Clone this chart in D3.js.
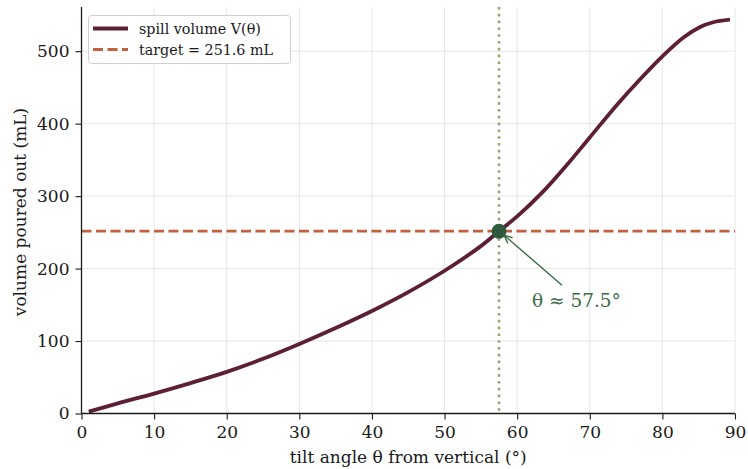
<!DOCTYPE html>
<html>
<head>
<meta charset="utf-8">
<script src="https://cdn.jsdelivr.net/npm/d3@7"></script>
<style>
  html, body { margin: 0; padding: 0; background: #fff; }
  svg { display: block; font-family: "DejaVu Serif", serif; }
</style>
</head>
<body>
<svg id="chart" width="748" height="469"></svg>
<script>
// ---- data ----
const theta = [1, 5, 10, 15, 20, 25, 30, 35, 40, 45, 50, 55, 57.5, 60, 63.6, 66.8, 70, 73.7, 76.9, 80, 82.9, 85.2, 87, 89.3];
const volume = [2.5, 14, 27.5, 42, 57.5, 75.5, 96, 118, 141.5, 167.5, 197, 231, 251.6, 272, 306.5, 342.5, 381, 425.5, 461, 493, 519, 533.5, 540, 543.5];
const targetVolume = 251.6;
const solutionAngle = 57.5;
const xTicks = [0, 10, 20, 30, 40, 50, 60, 70, 80, 90];
const yTicks = [0, 100, 200, 300, 400, 500];
const xDomain = [0, 90];
const yDomain = [0, 561];
const seriesLabels = ["spill volume V(θ)", "target = 251.6 mL"];
const annotationText = "θ ≈ 57.5°";
const xLabel = "tilt angle θ from vertical (°)";
const yLabel = "volume poured out (mL)";

// ---- layout ----
const M = { left: 81.5, right: 735, top: 7, bottom: 413.5 };
const colors = { curve: "#5d1f35", target: "#c1613f", vline: "#97a574", dot: "#2e5b3b", annot: "#3b6a47", grid: "#e6e6e6", ink: "#1a1a1a" };

const svg = d3.select("#chart");
const x = d3.scaleLinear().domain(xDomain).range([M.left, M.right]);
const y = d3.scaleLinear().domain(yDomain).range([M.bottom, M.top]);

// grid
svg.append("g").selectAll("line").data(xTicks).join("line")
  .attr("x1", d => x(d)).attr("x2", d => x(d)).attr("y1", M.top).attr("y2", M.bottom)
  .attr("stroke", colors.grid).attr("stroke-width", 1);
svg.append("g").selectAll("line").data(yTicks).join("line")
  .attr("x1", M.left).attr("x2", M.right).attr("y1", d => y(d)).attr("y2", d => y(d))
  .attr("stroke", colors.grid).attr("stroke-width", 1);

// vertical dotted line
svg.append("line")
  .attr("x1", x(solutionAngle)).attr("x2", x(solutionAngle)).attr("y1", M.top).attr("y2", M.bottom)
  .attr("stroke", colors.vline).attr("stroke-width", 2.6).attr("stroke-dasharray", "2.6,4.2");

// target dashed line
svg.append("line")
  .attr("x1", M.left).attr("x2", M.right).attr("y1", y(targetVolume)).attr("y2", y(targetVolume))
  .attr("stroke", colors.target).attr("stroke-width", 2.8).attr("stroke-dasharray", "10,4.5");

// curve
const pts = theta.map((t, i) => [t, volume[i]]);
const line = d3.line().x(d => x(d[0])).y(d => y(d[1])).curve(d3.curveCatmullRom.alpha(0.5));
svg.append("path").datum(pts).attr("d", line)
  .attr("fill", "none").attr("stroke", colors.curve).attr("stroke-width", 3.8)
  .attr("stroke-linejoin", "round").attr("stroke-linecap", "butt");

// dot
svg.append("circle").attr("cx", x(solutionAngle)).attr("cy", y(targetVolume)).attr("r", 7.5)
  .attr("fill", colors.dot);

// annotation arrow
const ax0 = x(solutionAngle) + 63, ay0 = y(targetVolume) + 54;
const ax1 = x(solutionAngle) + 5, ay1 = y(targetVolume) + 4;
svg.append("line").attr("x1", ax0).attr("y1", ay0).attr("x2", ax1).attr("y2", ay1)
  .attr("stroke", colors.annot).attr("stroke-width", 1.4);
const ang = Math.atan2(ay0 - ay1, ax0 - ax1);
const hl = 9, hw = 0.42;
svg.append("path")
  .attr("d", `M${ax1 + hl * Math.cos(ang - hw)},${ay1 + hl * Math.sin(ang - hw)} L${ax1},${ay1} L${ax1 + hl * Math.cos(ang + hw)},${ay1 + hl * Math.sin(ang + hw)}`)
  .attr("fill", "none").attr("stroke", colors.annot).attr("stroke-width", 1.4);
svg.append("text").attr("x", x(solutionAngle) + 33).attr("y", y(targetVolume) + 76)
  .attr("fill", colors.annot).attr("font-size", 18.5).text(annotationText);

// axes
const xAxis = d3.axisBottom(x).tickValues(xTicks).tickSize(6).tickPadding(6).tickFormat(d3.format("d"));
const yAxis = d3.axisLeft(y).tickValues(yTicks).tickSize(6).tickPadding(6).tickFormat(d3.format("d"));
const gx = svg.append("g").attr("transform", `translate(0,${M.bottom})`).call(xAxis);
const gy = svg.append("g").attr("transform", `translate(${M.left},0)`).call(yAxis);
[gx, gy].forEach(g => {
  g.select(".domain").attr("stroke", colors.ink).attr("stroke-width", 1.3);
  g.selectAll(".tick line").attr("stroke", colors.ink).attr("stroke-width", 1.1);
  g.selectAll(".tick text").attr("fill", colors.ink).attr("font-size", 17).attr("font-family", "DejaVu Serif");
});
gy.select(".domain").attr("d", `M0,${M.bottom}V${M.top}`);
gx.select(".domain").attr("d", `M${M.left},0H${M.right}`);

svg.append("text").attr("x", (M.left + M.right) / 2).attr("y", 463).attr("text-anchor", "middle")
  .attr("font-size", 17).attr("fill", colors.ink).text(xLabel);
svg.append("text").attr("transform", `translate(25.5,212) rotate(-90)`)
  .attr("text-anchor", "middle").attr("font-size", 17).attr("fill", colors.ink).text(yLabel);

// legend
const lg = svg.append("g");
lg.append("rect").attr("x", 88.5).attr("y", 15.5).attr("width", 202).attr("height", 48).attr("rx", 3)
  .attr("fill", "rgba(255,255,255,0.85)").attr("stroke", "#d0d0d0").attr("stroke-width", 1);
lg.append("line").attr("x1", 93).attr("x2", 128).attr("y1", 28.5).attr("y2", 28.5)
  .attr("stroke", colors.curve).attr("stroke-width", 3.8);
lg.append("line").attr("x1", 93).attr("x2", 128).attr("y1", 49.5).attr("y2", 49.5)
  .attr("stroke", colors.target).attr("stroke-width", 2.8).attr("stroke-dasharray", "10,4.5");
lg.selectAll("text.lbl").data(seriesLabels).join("text").attr("class", "lbl")
  .attr("x", 139).attr("y", (d, i) => 28.5 + i * 21 + 5).attr("font-size", 14.3).attr("fill", colors.ink).text(d => d);
</script>
</body>
</html>
